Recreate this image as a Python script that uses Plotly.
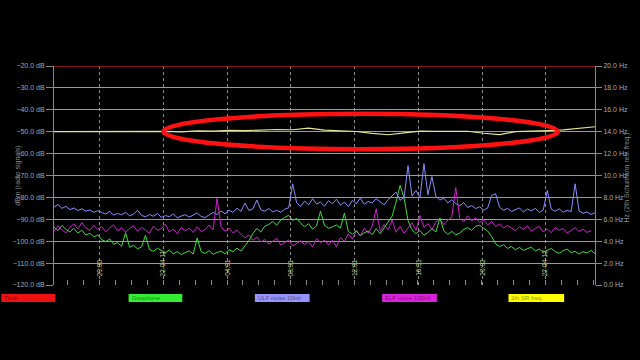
import pandas as pd
import plotly.graph_objects as go

# ---------------- data ----------------
start = "2022-04-10 17:07:30"
times = pd.date_range(start, periods=137, freq="15min")
sr_times = pd.date_range(start, periods=35, freq="60min")

ulf_noise_10hz = [
    -84.5, -83.2, -85.0, -84.1, -85.6, -84.8, -86.0, -85.2, -86.3, -85.7, -86.8, -86.1,
    -86.9, -87.6, -86.4, -88.1, -87.3, -87.9, -86.8, -88.4, -87.7, -85.9,
    -88.2, -88.9, -87.8, -88.6, -87.4, -89.1, -88.3, -88.8, -87.6, -89.3,
    -88.5, -87.9, -89.0, -88.2, -87.1, -88.7, -89.2, -88.0, -86.9, -87.8,
    -86.2, -87.5, -85.8, -86.9, -84.9, -86.4, -82.6, -86.0, -85.2, -81.2,
    -85.7, -86.3, -85.1, -86.6, -85.9, -86.8, -85.4, -84.7,
    -73.8,
    -82.5, -84.1, -81.7, -83.4, -80.6, -83.0, -82.2, -84.0, -81.5,
    -82.9, -80.8, -83.6, -82.1, -84.2, -81.4, -82.8, -80.3, -83.1, -81.9, -82.5,
    -80.6, -82.2, -83.4, -81.0, -79.2, -77.6, -81.3, -80.1, -65.5, -79.4, -76.8,
    -80.2, -64.6, -78.8, -70.5, -79.6, -81.2, -80.4, -82.5,
    -81.0, -82.8, -83.9, -82.4, -84.6, -83.7, -85.1, -84.3, -85.8, -84.9,
    -79.2, -78.3, -84.5, -85.9, -85.0, -86.4, -85.6, -84.8, -86.7, -85.3,
    -86.1, -85.0, -86.9, -85.7, -76.8, -85.4, -86.3, -85.2, -86.8, -85.9,
    -86.5, -73.8, -86.2, -87.3, -86.6, -87.8, -87.0,
]

geophone = [
    -93.5, -95.2, -92.8, -94.6, -95.8, -94.1, -96.3, -95.0, -97.2, -96.4,
    -98.0, -97.1, -99.3, -100.2, -99.0, -101.4, -100.6, -102.3, -96.2, -102.8,
    -101.9, -103.5, -102.6, -97.3, -103.8, -104.6, -103.2,
    -104.2, -105.3, -104.0, -105.8, -104.7, -106.1, -105.2, -104.4, -105.9, -98.5,
    -104.8, -105.6, -104.3, -106.0, -105.1, -104.6, -105.7, -103.9, -104.8, -103.2,
    -104.5, -102.1,
    -99.8,
    -96.5, -94.2, -95.8, -93.1, -92.4, -91.0, -92.7, -90.3, -89.1, -88.2,
    -90.5, -89.6, -91.8, -93.4, -92.0, -94.5, -93.0, -86.3, -92.8, -94.1, -93.5,
    -92.6, -94.0, -87.2, -95.6, -96.8, -95.2, -97.5, -96.1, -95.4, -97.0,
    -94.3, -96.6, -93.8, -91.2, -88.5,
    -82.0, -74.5, -80.3, -90.6,
    -94.8, -96.5, -95.1, -97.3, -96.0, -94.4, -95.8, -89.4, -95.2, -96.9,
    -95.5, -97.1, -96.3,
    -94.6, -93.8, -95.0, -93.2, -92.7, -94.1, -95.3, -97.8,
    -101.2, -102.5, -101.6, -103.3, -102.4, -103.9, -102.8, -104.2, -103.5, -102.7,
    -104.4, -103.6, -105.0, -104.1, -103.3, -104.8, -105.5, -104.3, -103.6, -105.2,
    -104.6, -105.9, -104.8, -105.4, -104.2, -105.7, -105.0,
]

elf_noise_100hz = [
    -95.5, -93.0, -94.8, -96.2, -93.6, -92.1, -94.4, -91.5, -93.9, -95.1,
    -92.8, -94.6, -93.3, -95.7, -94.0, -92.5, -95.3, -93.8, -96.0, -94.2,
    -92.9, -95.5, -93.6, -94.9, -96.4, -93.1, -95.0, -94.3, -92.2, -95.8,
    -94.5, -96.6, -93.7, -95.2, -94.1, -96.0, -93.4, -95.6, -94.7, -92.6,
    -94.9, -80.4, -93.5, -95.4, -94.0, -96.2, -95.0,
    -96.8, -98.5, -97.2, -99.6, -98.1, -100.4, -99.2, -101.3, -100.0, -98.7,
    -101.8, -100.6, -99.4, -102.2, -100.9, -99.8, -101.5, -100.2, -102.6, -98.9,
    -100.7, -99.5,
    -101.8, -99.5, -102.6, -98.3, -100.1, -96.7, -99.0, -95.2, -97.6, -94.1,
    -96.3, -93.0, -85.2, -95.5, -92.4, -94.8, -90.3, -95.9, -93.2, -96.4,
    -94.0, -91.6, -95.1, -88.3, -93.7, -92.0, -94.6, -91.3, -89.8, -92.5,
    -90.4, -88.9, -75.5, -89.6, -91.2, -88.4, -90.7, -89.3, -91.5, -90.1,
    -92.6, -91.0, -93.3, -92.1, -94.0, -92.8, -93.9, -95.2, -93.4, -94.6,
    -92.9, -95.5, -94.1, -93.2, -95.8, -94.4, -96.1, -93.7, -95.0, -94.2,
    -96.3, -95.1, -93.8, -95.6, -94.5, -96.0, -95.2,
]

sr_freq_hz = [
    14.00, 14.01, 13.99, 14.00, 14.02, 14.00, 14.01, 14.03, 13.99, 14.08,
    14.06, 14.12, 14.10, 14.15, 14.20, 14.18, 14.32, 14.14, 14.08, 14.02,
    13.85, 13.72, 13.90, 14.05, 14.03, 14.06, 14.04, 13.86, 13.74, 14.00,
    14.02, 14.10, 14.16, 14.30, 14.45,
]

x_tick_vals = ["2022-04-10 20:00", "2022-04-11 00:00", "2022-04-11 04:01",
               "2022-04-11 08:01", "2022-04-11 12:01", "2022-04-11 16:01",
               "2022-04-11 20:02", "2022-04-12 00:00"]
x_tick_text = ["20:00", "22-04-11", "04:01", "08:01", "12:01", "16:01", "20:02", "22-04-12"]

legend_names = ["Time", "Geophone", "ULF noise 10Hz", "ELF noise 100Hz", "2th SR freq."]
legend_colors = ["#ee1111", "#33ee33", "#9494ff", "#dd22dd", "#ffff00"]

# ---------------- figure ----------------
FONT = "Liberation Sans, Arial, sans-serif"
GRID = "#9a9a9a"
TICK = "#a8a8a8"

fig = go.Figure()

def add(series, color, name, width=1.0):
    fig.add_trace(go.Scatter(x=times[:len(series)], y=series, mode="lines",
                             line=dict(color=color, width=width), name=name))

add(ulf_noise_10hz, "#8c8cff", "ULF noise 10Hz")
add(elf_noise_100hz, "#cc22cc", "ELF noise 100Hz")
add(geophone, "#3ddd3d", "Geophone")

fig.add_trace(go.Scatter(x=sr_times, y=sr_freq_hz, mode="lines", yaxis="y2",
                         line=dict(color="#e4e490", width=1.2), name="2th SR freq."))

# top "Time" line
fig.add_shape(type="line", xref="paper", yref="y", x0=0, x1=1, y0=-20, y1=-20,
              line=dict(color="#b02020", width=1.5))

# red ellipse highlight
fig.add_shape(type="circle", xref="x", yref="y",
              x0="2022-04-11 00:00", x1="2022-04-12 00:48", y0=-58.0, y1=-41.8,
              line=dict(color="#ff1111", width=4.5))

# x tick labels drawn inside the plot area
for tv, tt in zip(x_tick_vals, x_tick_text):
    fig.add_annotation(xref="x", yref="y", x=tv, y=-116.8, text=tt, textangle=-90,
                       showarrow=False, xanchor="center", yanchor="bottom",
                       font=dict(family=FONT, size=6.5, color="#d0d08c"))

# legend boxes at bottom
L, W = 53.0, 544.0
box_px = [(0, 54), (128, 182), (255, 310), (383, 438), (510, 566)]
yb0 = (285 - 294) / 219.0
yb1 = (285 - 302) / 219.0
for (a, b), name, col in zip(box_px, legend_names, legend_colors):
    fig.add_shape(type="rect", xref="paper", yref="paper",
                  x0=(a - L) / W, x1=(b - L) / W, y0=yb1, y1=yb0,
                  fillcolor=col, line=dict(width=0))
    fig.add_annotation(xref="paper", yref="paper", x=(a + 1 - L) / W, y=(yb0 + yb1) / 2,
                       text=name, showarrow=False, xanchor="left", yanchor="middle",
                       font=dict(family=FONT, size=6, color="rgba(0,0,0,0.5)"))

# axis titles
fig.add_annotation(xref="paper", yref="paper", x=(10 - L) / W, y=0.50,
                   text="dBm (radio signals)", textangle=-90, showarrow=False,
                   font=dict(family=FONT, size=7, color="#8a8a8a"))
fig.add_annotation(xref="paper", yref="paper", x=(635 - L) / W, y=0.49,
                   text="Hz (2th Schumann res. freq.)", textangle=-90, showarrow=False,
                   font=dict(family=FONT, size=7, color="#8a8a8a"))

fig.update_layout(
    width=640, height=360,
    margin=dict(l=53, r=43, t=66, b=75),
    paper_bgcolor="black", plot_bgcolor="black",
    showlegend=False,
    xaxis=dict(
        type="date",
        range=["2022-04-10 17:07:30", "2022-04-12 03:07:30"],
        tickvals=x_tick_vals, ticktext=x_tick_text, showticklabels=False,
        ticks="", showline=False, zeroline=False,
        showgrid=True, gridcolor="#8a8a8a", griddash="dot", gridwidth=1,
        minor=dict(dtick=3600000, tick0="2022-04-10 20:00", ticks="inside",
                   ticklen=5, tickcolor="#888888", showgrid=False),
    ),
    yaxis=dict(
        range=[-120, -20], dtick=10, tickformat=".1f", ticksuffix=" dB",
        tickfont=dict(family=FONT, size=7, color=TICK),
        ticks="outside", ticklen=7, tickcolor="#888888",
        showline=True, linecolor="#888888", linewidth=1,
        showgrid=True, gridcolor=GRID, gridwidth=1, zeroline=False,
    ),
    yaxis2=dict(
        range=[0, 20], dtick=2, tickformat=".1f", ticksuffix=" Hz",
        overlaying="y", side="right",
        tickfont=dict(family=FONT, size=7, color=TICK),
        ticks="outside", ticklen=6, tickcolor="#888888",
        showline=True, linecolor="#888888", linewidth=1,
        showgrid=False, zeroline=False,
    ),
)

fig.write_html("out.html")
